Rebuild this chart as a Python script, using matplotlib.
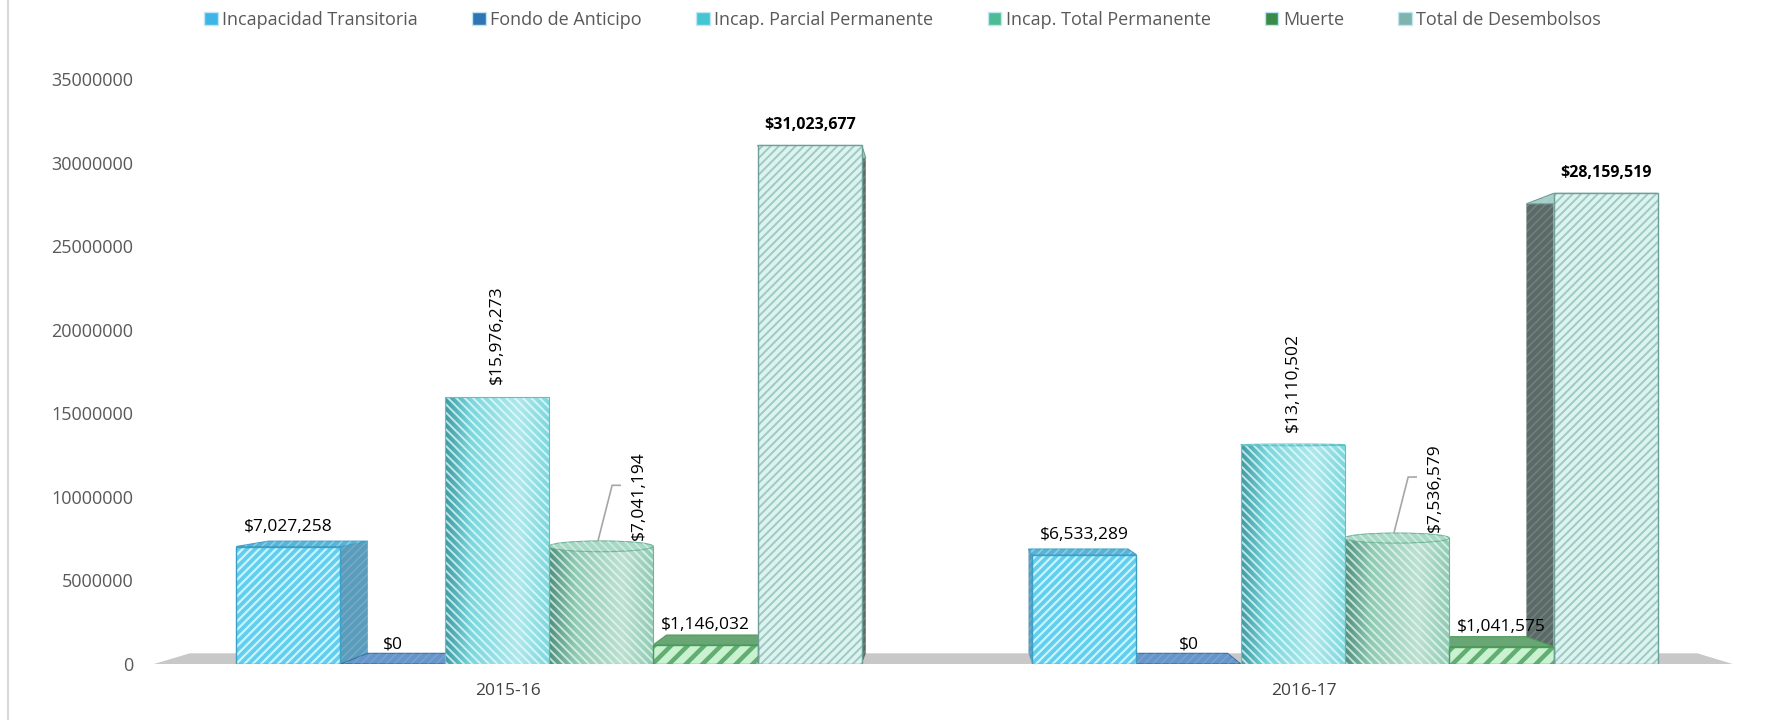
import matplotlib
matplotlib.use("Agg")
import numpy as np
import matplotlib.pyplot as plt
from matplotlib.patches import Rectangle, Polygon, Ellipse, Patch
from matplotlib.lines import Line2D
from matplotlib.colors import LinearSegmentedColormap, to_rgb
from matplotlib.ticker import FuncFormatter

plt.rcParams['font.family'] = ['Open Sans', 'DejaVu Sans']
plt.rcParams['hatch.linewidth'] = 1.5

# data
CATEGORIES = ['2015-16', '2016-17']
SERIES = ['Incapacidad Transitoria', 'Fondo de Anticipo', 'Incap. Parcial Permanente',
          'Incap. Total Permanente', 'Muerte', 'Total de Desembolsos']
INCAPACIDAD_TRANSITORIA = [7027258, 6533289]
FONDO_ANTICIPO = [0, 0]
INCAP_PARCIAL = [15976273, 13110502]
INCAP_TOTAL = [7041194, 7536579]
MUERTE = [1146032, 1041575]
TOTAL_DESEMBOLSOS = [31023677, 28159519]
VALUES = [INCAPACIDAD_TRANSITORIA, FONDO_ANTICIPO, INCAP_PARCIAL, INCAP_TOTAL, MUERTE, TOTAL_DESEMBOLSOS]
Y_TICKS = [0, 5000000, 10000000, 15000000, 20000000, 25000000, 30000000, 35000000]

# look of each series (Excel 3D style: box or cylinder, hatched)
STYLE = {
    'Incapacidad Transitoria': dict(shape='box', base='#62cdee', stripe='#c6f5fe', edge='#3b9fc6',
                                    top='#5ab3d6', side='#5a9cbc', legend='#3db5e6', label='flat',
                                    hatch='////', hlw=1.6),
    'Fondo de Anticipo': dict(shape='box', base='#5a8fc6', stripe='#8fb7de', edge='#3a6ea6',
                              top='#6595c9', side='#4a78a6', legend='#2e75b6', label='flat',
                              hatch='////', hlw=1.6),
    'Incap. Parcial Permanente': dict(shape='cyl', base='#7bd8de', stripe='#eafdfe', edge='#5cc3ca',
                                      top='#9ee5e8', dark='#3f9aa2', legend='#45c4d4', label='up'),
    'Incap. Total Permanente': dict(shape='cyl', base='#8fcbb4', stripe='#eaf8f2', edge='#6fb39a',
                                    top='#a6d8c4', dark='#4f8f7d', legend='#4dbb93', label='leader'),
    'Muerte': dict(shape='box', base='#c9f2d0', stripe='#62ad72', edge='#4a9a5a',
                   top='#6aa675', side='#4f8a5c', legend='#3a8a4a', label='flat',
                   hatch='//', hlw=3.2),
    'Total de Desembolsos': dict(shape='box', base='#dcf3f0', stripe='#9fc9c3', edge='#6e9f99',
                                 top='#a9cfca', side='#5a6a67', legend='#7fb3ae', label='bold',
                                 hatch='////', hlw=1.4),
}

BAR_W = 0.131
GROUP_SHIFT = 0.0515
VP = (0.555, 14.2e6)   # vanishing point of the fake perspective
K = 0.045


def back(x, y):
    return x + K * (VP[0] - x), y + K * (VP[1] - y)


fig = plt.figure(figsize=(17.7, 7.2), dpi=100)
ax = fig.add_axes([150 / 1770, 56 / 720, 1585 / 1770, 585 / 720])
XLIM = (-0.4497, 1.5414)
YLIM = (0, 35000000)

ppx = 1585 / (XLIM[1] - XLIM[0])
ppy = 585 / (YLIM[1] - YLIM[0])

# floor
fx0, fx1 = XLIM[0] + 0.005, XLIM[1] - 0.003
floor = [(fx0, 0), back(fx0, 0), back(fx1, 0), (fx1, 0)]
ax.add_patch(Polygon(floor, closed=True, facecolor='#c8c8c8', edgecolor='none', zorder=1))

for s, name in enumerate(SERIES):
    st = STYLE[name]
    for c, h in enumerate(VALUES[s]):
        xc = c + GROUP_SHIFT + (s - 2.5) * BAR_W
        x0, x1 = xc - BAR_W / 2, xc + BAR_W / 2
        if st['shape'] == 'box':
            xs = x1 if xc < VP[0] else x0
            side = [(xs, 0), (xs, h), back(xs, h), back(xs, 0)]
            ax.add_patch(Polygon(side, closed=True, facecolor=st['side'], edgecolor='none', zorder=2))
            with plt.rc_context({'hatch.linewidth': 1.2}):
                ax.add_patch(Polygon(side, closed=True, facecolor='none', edgecolor='#ffffff',
                                     hatch='////', lw=0, zorder=2, alpha=0.15))
            top = [(x0, h), (x1, h), back(x1, h), back(x0, h)]
            ax.add_patch(Polygon(top, closed=True, facecolor=st['top'], edgecolor=st['edge'],
                                 lw=0.8, zorder=2.5))
            with plt.rc_context({'hatch.linewidth': 1.2}):
                ax.add_patch(Polygon(top, closed=True, facecolor='none', edgecolor=st['stripe'],
                                     hatch='////', lw=0, zorder=2.5, alpha=0.4))
            with plt.rc_context({'hatch.linewidth': st['hlw']}):
                ax.add_patch(Rectangle((x0, 0), BAR_W, h, facecolor=st['base'],
                                       edgecolor=st['stripe'], hatch=st['hatch'], lw=0, zorder=3))
            ax.add_patch(Rectangle((x0, 0), BAR_W, h, facecolor='none', edgecolor=st['edge'],
                                   lw=1.0, zorder=3.1))
        else:
            clip = Rectangle((x0, 0), BAR_W, h, transform=ax.transData)
            light = tuple(0.6 * np.array(to_rgb(st['base'])) + 0.4)
            cmap = LinearSegmentedColormap.from_list(
                'cyl', [(0, st['dark']), (0.25, st['base']), (0.7, light), (1, st['base'])])
            im = ax.imshow(np.linspace(0, 1, 200)[None, :], cmap=cmap, extent=(x0, x1, 0, h),
                           aspect='auto', interpolation='bicubic', zorder=3)
            im.set_clip_path(clip)
            with plt.rc_context({'hatch.linewidth': 1.4}):
                ax.add_patch(Rectangle((x0, 0), BAR_W, h, facecolor='none', edgecolor=st['stripe'],
                                       hatch='\\\\\\\\', lw=0, zorder=3.05, alpha=0.75))
            ax.add_patch(Rectangle((x0, 0), BAR_W, h, facecolor='none', edgecolor=st['edge'],
                                   lw=0.8, zorder=3.1))
            if h < VP[1]:
                eh = 2 * K * (VP[1] - h)
                ax.add_patch(Ellipse((xc, h), BAR_W, eh, facecolor=st['top'],
                                     edgecolor=st['edge'], lw=0.8, zorder=3.2))
                with plt.rc_context({'hatch.linewidth': 1.2}):
                    ax.add_patch(Ellipse((xc, h), BAR_W, eh, facecolor='none',
                                         edgecolor=st['stripe'], hatch='\\\\\\\\', lw=0,
                                         zorder=3.2, alpha=0.6))

        # data labels
        txt = f'${h:,.0f}'
        kind = st['label']
        if kind in ('flat', 'bold'):
            ax.text(xc, h + 12 / ppy, txt, ha='center', va='bottom', fontsize=12.5 if kind == 'flat' else 11.5,
                    fontweight='bold' if kind == 'bold' else 'normal', color='#000000', zorder=6)
        elif kind == 'up':
            ax.text(xc, h + 13 / ppy, txt, ha='center', va='bottom', rotation=90, fontsize=12.5,
                    color='#000000', zorder=6)
        else:
            ax.text(xc + 38 / ppx, h + 6 / ppy, txt, ha='center', va='bottom', rotation=90,
                    fontsize=12.5, color='#000000', zorder=6)
            ax.plot([xc - 3 / ppx, xc + 11 / ppx, xc + 19 / ppx],
                    [h + 6 / ppy, h + 61 / ppy, h + 61 / ppy], color='#a6a6a6', lw=1.2, zorder=6)

ax.set_xlim(*XLIM)
ax.set_ylim(*YLIM)
ax.set_xticks(range(len(CATEGORIES)))
ax.set_xticklabels(CATEGORIES)
ax.set_yticks(Y_TICKS)
ax.yaxis.set_major_formatter(FuncFormatter(lambda v, _: f'{int(v)}'))
ax.tick_params(axis='y', length=0, pad=12, labelsize=13, labelcolor='#595959')
ax.tick_params(axis='x', length=0, pad=14, labelsize=12.5, labelcolor='#404040')
for sp in ax.spines.values():
    sp.set_visible(False)

# legend
handles = [Patch(facecolor=STYLE[n]['legend'], edgecolor='#bfe6f2', lw=1.0) for n in SERIES]
fig.legend(handles, SERIES, loc='center', bbox_to_anchor=(0.51, 0.972), ncol=6, frameon=False,
           fontsize=13, handlelength=0.75, handleheight=0.75, handletextpad=0.25, columnspacing=3.0,
           labelcolor='#595959')

# chart border on the left
fig.add_artist(Line2D([8 / 1770, 8 / 1770], [0, 1], color='#d9d9d9', lw=1.5))

fig.savefig('out.png', dpi=100)
